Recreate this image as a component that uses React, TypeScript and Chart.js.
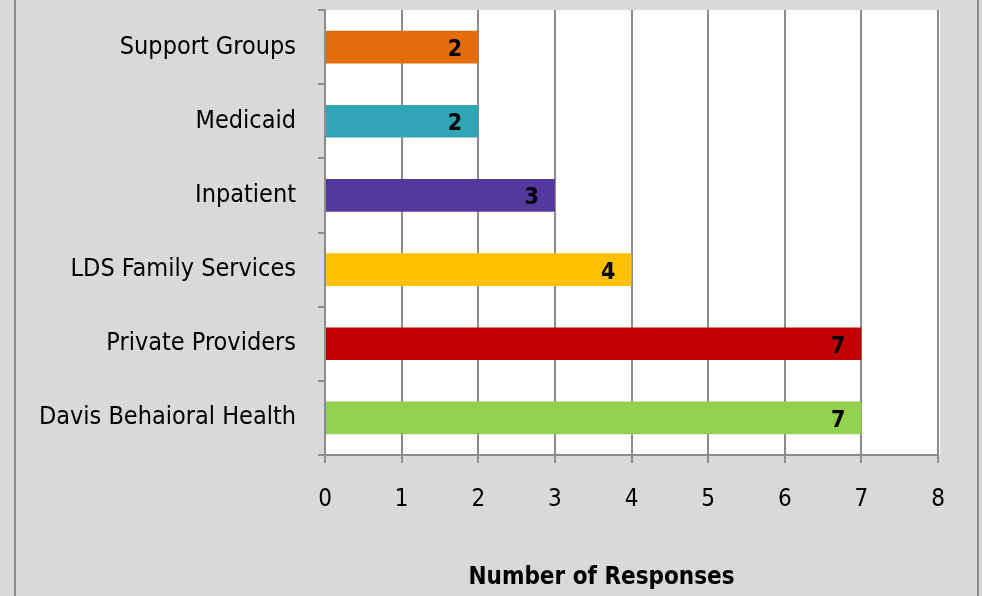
import React, { useEffect, useRef } from "react";
import { Chart, registerables } from "chart.js";

Chart.register(...registerables);

const categories = [
  "Support Groups",
  "Medicaid",
  "Inpatient",
  "LDS Family Services",
  "Private Providers",
  "Davis Behaioral Health",
];
const responses = [2, 2, 3, 4, 7, 7];
const barColors = ["#E46C0A", "#2EA6B5", "#55389B", "#FFC000", "#C00000", "#92D050"];
const xTicks = [0, 1, 2, 3, 4, 5, 6, 7, 8];
const axisTitle = "Number of Responses";

const FONT = "'Liberation Sans Narrow', 'DejaVu Sans Condensed', sans-serif";

const framePlugin = {
  id: "frame",
  beforeDraw(chart: any) {
    const { ctx, width, height, chartArea } = chart;
    ctx.save();
    ctx.fillStyle = "#d9d9d9";
    ctx.fillRect(0, 0, width, height);
    ctx.fillStyle = "#ffffff";
    ctx.fillRect(chartArea.left, chartArea.top, chartArea.right - chartArea.left + 2, chartArea.bottom - chartArea.top);
    ctx.strokeStyle = "#8a8a8a";
    ctx.lineWidth = 2;
    ctx.beginPath();
    ctx.moveTo(15, 0);
    ctx.lineTo(15, height);
    ctx.moveTo(978, 0);
    ctx.lineTo(978, height);
    ctx.stroke();
    ctx.restore();
  },
  afterDraw(chart: any) {
    const { ctx, chartArea } = chart;
    ctx.save();
    ctx.font = `bold 24px ${FONT}`;
    ctx.fillStyle = "#000";
    ctx.textAlign = "center";
    ctx.textBaseline = "middle";
    ctx.fillText(axisTitle, (chartArea.left + chartArea.right) / 2 - 30, 578);
    const meta = chart.getDatasetMeta(0);
    ctx.font = `bold 23px ${FONT}`;
    ctx.textAlign = "right";
    meta.data.forEach((bar: any, i: number) => {
      ctx.fillText(String(responses[i]), bar.x - 16, bar.y + 3);
    });
    ctx.restore();
  },
};

export default function App() {
  const ref = useRef<HTMLCanvasElement>(null);
  useEffect(() => {
    document.body.style.margin = "0";
    const chart = new Chart(ref.current!, {
      type: "bar",
      data: {
        labels: categories,
        datasets: [
          {
            data: responses,
            backgroundColor: barColors,
            barPercentage: 0.44,
            categoryPercentage: 1,
          },
        ],
      },
      options: {
        indexAxis: "y",
        animation: false,
        responsive: false,
        layout: { padding: { top: 10, right: 44, left: 0, bottom: 0 } },
        plugins: { legend: { display: false }, tooltip: { enabled: false } },
        scales: {
          x: {
            min: 0,
            max: 8,
            afterFit(scale: any) {
              scale.height = 141;
              scale.paddingLeft = 0;
              scale.paddingRight = 0;
            },
            afterBuildTicks(scale: any) {
              scale.ticks = xTicks.map((v) => ({ value: v }));
            },
            grid: {
              color: "#8c8c8c",
              lineWidth: 2,
              tickLength: 8,
              drawOnChartArea: true,
            },
            border: { display: true, color: "#8c8c8c", width: 2 },
            ticks: {
              color: "#000",
              font: { family: FONT, size: 24 },
              padding: 22,
            },
          },
          y: {
            afterFit(scale: any) {
              scale.width = 325;
              scale.paddingTop = 0;
              scale.paddingBottom = 0;
            },
            grid: {
              offset: true,
              drawOnChartArea: false,
              color: "#8c8c8c",
              lineWidth: 2,
              tickLength: 7,
            },
            border: { display: true, color: "#8c8c8c", width: 2 },
            ticks: {
              color: "#000",
              font: { family: FONT, size: 25 },
              padding: 22,
            },
          },
        },
      },
      plugins: [framePlugin],
    });
    return () => chart.destroy();
  }, []);
  return <canvas ref={ref} width={982} height={596} style={{ display: "block" }} />;
}
